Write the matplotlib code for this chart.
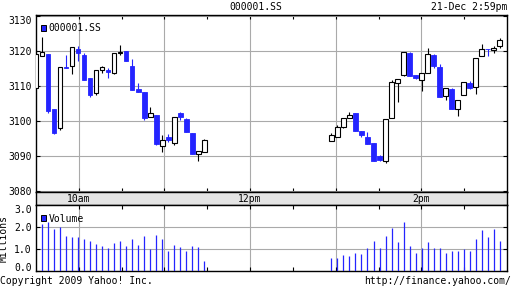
import numpy as np
import matplotlib
matplotlib.use("Agg")
import matplotlib.pyplot as plt
from matplotlib.patches import Rectangle

plt.rcParams['font.family'] = 'DejaVu Sans Mono'
plt.rcParams['font.size'] = 7

symbol = "000001.SS"
stamp = "21-Dec 2:59pm"

# session start times and spacing between bars
am_start = "09:30"
pm_start = "12:57"
bar_minutes = 4.21

# morning session
am_open  = [3109.4, 3118.5, 3119.2, 3103.3, 3098.1, 3115.3, 3115.6, 3120.5, 3118.9, 3112.4,
            3107.9, 3114.5, 3114.6, 3113.7, 3119.4, 3120.0, 3115.8, 3109.0, 3108.4, 3101.2,
            3101.6, 3092.9, 3095.4, 3093.7, 3102.2, 3100.7, 3096.5, 3090.5, 3091.3]
am_high  = [3119.4, 3123.8, 3119.2, 3103.3, 3115.3, 3118.9, 3121.0, 3121.4, 3119.3, 3112.4,
            3114.5, 3115.8, 3115.2, 3119.3, 3121.7, 3120.0, 3117.7, 3110.7, 3108.4, 3104.1,
            3101.6, 3095.9, 3096.2, 3101.2, 3102.5, 3101.0, 3096.5, 3091.6, 3094.8]
am_low   = [3109.4, 3118.5, 3102.4, 3096.2, 3097.5, 3115.0, 3113.5, 3117.0, 3111.8, 3106.8,
            3107.3, 3113.6, 3112.3, 3113.4, 3118.7, 3117.0, 3108.8, 3108.2, 3100.4, 3101.2,
            3093.1, 3091.2, 3094.1, 3093.3, 3100.4, 3096.9, 3090.7, 3088.6, 3091.3]
am_close = [3119.2, 3119.6, 3102.8, 3096.5, 3115.3, 3115.0, 3121.0, 3119.3, 3111.8, 3107.5,
            3114.5, 3115.3, 3113.9, 3119.3, 3119.6, 3117.0, 3108.8, 3108.2, 3100.9, 3102.2,
            3093.4, 3094.7, 3094.5, 3101.2, 3101.1, 3096.9, 3090.7, 3091.6, 3094.5]
am_volume = [np.nan, 2.15, 2.21, 1.89, 2.02, 1.60, 1.53, 1.56, 1.44, 1.37,
             1.24, 1.15, 1.05, 1.28, 1.37, 1.15, 1.44, 1.19, 1.60, 1.02,
             1.65, 1.44, 0.92, 1.19, 1.07, 0.89, 1.15, 1.10, 0.46]

# afternoon session
pm_open  = [3094.4, 3095.6, 3098.3, 3100.9, 3102.2, 3097.3, 3095.4, 3093.7, 3090.0, 3088.5,
            3100.9, 3110.9, 3113.0, 3119.3, 3113.2, 3111.7, 3113.7, 3118.9, 3115.3, 3107.0,
            3109.2, 3103.5, 3107.4, 3110.8, 3109.7, 3118.5, 3120.5, 3120.2, 3121.4]
pm_high  = [3096.6, 3099.0, 3100.9, 3102.7, 3102.2, 3097.3, 3096.9, 3093.7, 3090.3, 3100.7,
            3111.8, 3112.0, 3119.7, 3119.7, 3113.2, 3113.7, 3120.9, 3119.1, 3116.2, 3109.5,
            3109.5, 3106.0, 3111.1, 3111.5, 3118.0, 3122.0, 3120.6, 3121.4, 3123.6]
pm_low   = [3094.4, 3095.6, 3097.9, 3100.9, 3097.1, 3095.5, 3093.6, 3088.6, 3088.5, 3088.1,
            3100.9, 3105.4, 3112.8, 3112.7, 3112.0, 3108.5, 3113.7, 3115.1, 3106.8, 3105.9,
            3103.3, 3101.4, 3107.4, 3109.2, 3107.8, 3118.5, 3118.4, 3119.5, 3120.8]
pm_close = [3095.9, 3098.4, 3100.9, 3101.6, 3097.1, 3096.0, 3093.6, 3088.6, 3089.0, 3100.7,
            3111.2, 3112.0, 3119.7, 3112.7, 3112.3, 3113.7, 3119.1, 3115.6, 3106.8, 3109.5,
            3103.3, 3106.0, 3111.1, 3109.4, 3118.0, 3120.5, 3120.4, 3120.8, 3123.0]
pm_volume = [0.61, 0.61, 0.73, 0.69, 0.82, 0.78, 1.05, 1.37, 1.05, 1.60,
             1.97, 1.33, 2.24, 1.15, 0.82, 1.05, 1.33, 1.05, 1.05, 0.82,
             0.92, 0.92, 1.01, 0.92, 1.47, 1.88, 1.56, 1.92, 1.37]

price_ticks = [3080, 3090, 3100, 3110, 3120, 3130]
volume_ticks = [0.0, 1.0, 2.0, 3.0]
hour_ticks = [10, 11, 12, 13, 14]
hour_labels = {10: "10am", 12: "12pm", 14: "2pm"}


def to_hours(hhmm):
    h, m = hhmm.split(":")
    return int(h) + int(m) / 60.0


def session_times(start, n):
    return to_hours(start) + np.arange(n) * bar_minutes / 60.0


t = np.concatenate([session_times(am_start, len(am_open)), session_times(pm_start, len(pm_open))])
o = np.array(am_open + pm_open)
h = np.array(am_high + pm_high)
l = np.array(am_low + pm_low)
c = np.array(am_close + pm_close)
v = np.array(am_volume + pm_volume)

BLUE = '#2424ff'
GRID = '#aaaaaa'

fig = plt.figure(figsize=(5.12, 2.88), dpi=100)
W, H = 512.0, 288.0
ax = fig.add_axes([36 / W, 1 - 192 / H, 471 / W, 177 / H])
band = fig.add_axes([36 / W, 1 - 205 / H, 471 / W, 13 / H])
axv = fig.add_axes([36 / W, 1 - 271 / H, 471 / W, 66 / H])

for a in (ax, band, axv):
    a.set_xlim(9.5, 15.0)
    for s in a.spines.values():
        s.set_color('black')
        s.set_linewidth(1.0)

# candles
up = c >= o
bw = 0.055
ax.vlines(t[up], l[up], h[up], color='black', lw=0.8, zorder=3)
ax.vlines(t[~up], l[~up], h[~up], color=BLUE, lw=0.8, zorder=3)
ax.bar(t[up], np.abs(c - o)[up], bottom=np.minimum(o, c)[up], width=bw,
       facecolor='white', edgecolor='black', lw=0.8, zorder=4)
ax.bar(t[~up], np.abs(c - o)[~up], bottom=np.minimum(o, c)[~up], width=bw,
       facecolor=BLUE, edgecolor=BLUE, lw=0.6, zorder=4)

ax.set_ylim(3079.8, 3130.2)
ax.set_yticks(price_ticks)
ax.set_yticklabels([str(p) for p in price_ticks])
ax.set_xticks(hour_ticks)
ax.set_xticks([10.5, 11.5, 12.5, 13.5, 14.5], minor=True)
ax.grid(True, which='major', color=GRID, lw=0.8, zorder=0)
ax.tick_params(which='both', direction='in', top=True, right=True, length=3, width=0.8,
               labelbottom=False, pad=3)
ax.get_yticklabels()[-1].set_va('top')

ax.add_patch(Rectangle((0.0096, 0.912), 0.0117, 0.032, transform=ax.transAxes,
                       facecolor=BLUE, edgecolor='black', lw=0.7, zorder=6))
ax.text(0.027, 0.927, symbol, transform=ax.transAxes, va='center', ha='left', zorder=6)

# time label band
band.set_facecolor('#e4e4e4')
band.set_ylim(0, 1)
band.set_xticks([])
band.set_yticks([])
for hr, lab in hour_labels.items():
    band.text(hr, 0.45, lab, ha='center', va='center')

# volume
axv.vlines(t, 0, v, color=BLUE, lw=0.9, zorder=3)
axv.set_ylim(0, 3)
axv.set_yticks(volume_ticks)
axv.set_yticklabels(["%.1f" % x for x in volume_ticks])
axv.set_xticks(hour_ticks)
axv.set_xticks([10.5, 11.5, 12.5, 13.5, 14.5], minor=True)
axv.grid(True, which='major', color=GRID, lw=0.8, zorder=0)
axv.tick_params(which='both', direction='in', top=True, right=True, length=3, width=0.8,
                labelbottom=False, pad=3)
axv.get_yticklabels()[-1].set_va('top')
axv.get_yticklabels()[0].set_va('baseline')
axv.set_ylabel("Millions", labelpad=4)

axv.add_patch(Rectangle((0.0096, 0.76), 0.0117, 0.085, transform=axv.transAxes,
                        facecolor=BLUE, edgecolor='black', lw=0.7, zorder=6))
axv.text(0.027, 0.795, "Volume", transform=axv.transAxes, va='center', ha='left', zorder=6)

fig.text(0.5, 1 - 7 / H, symbol, ha='center', va='center')
fig.text(507 / W, 1 - 7 / H, stamp, ha='right', va='center')
fig.text(0.0, 1 - 281 / H, "Copyright 2009 Yahoo! Inc.", ha='left', va='center')
fig.text(511 / W, 1 - 281 / H, "http://finance.yahoo.com/", ha='right', va='center')

fig.savefig('out.png', dpi=100)
